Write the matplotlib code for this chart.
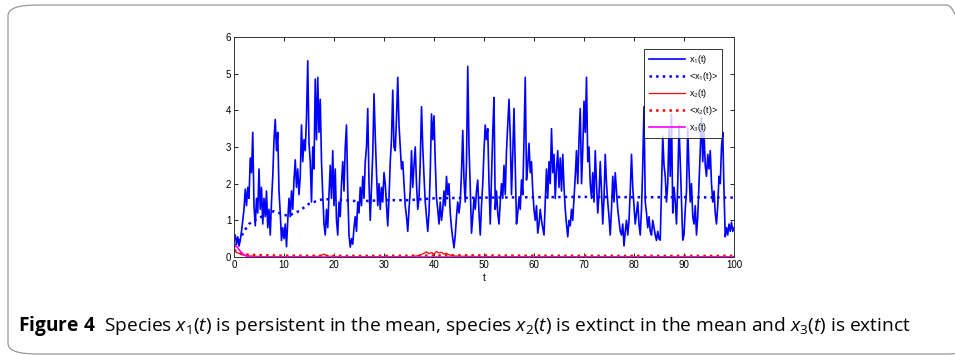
"""Species trajectories x1, x2, x3 with time averages (Figure 4)."""

import matplotlib.pyplot as plt
import numpy as np
from matplotlib.patches import FancyBboxPatch

CAP_FONT = "Open Sans"

plt.rcParams["font.family"] = ["Liberation Sans", "DejaVu Sans"]
plt.rcParams["mathtext.fontset"] = "custom"
plt.rcParams["mathtext.rm"] = CAP_FONT
plt.rcParams["mathtext.it"] = CAP_FONT + ":italic"
plt.rcParams["mathtext.bf"] = CAP_FONT + ":bold"

# x1(t) sampled every 0.25 time units, t = 0 ... 100
T_STEP = 0.25
X1 = [
    0.45, 0.6, 0.35, 0.55, 0.3, 0.45, 0.7, 1.0, 1.3, 1.85, 1.4, 1.9, 1.6, 2.7, 2.3, 3.4, 1.4, 0.85, 1.6, 1.2,
    2.4, 1.3, 1.9, 0.9, 1.6, 1.1, 1.8, 0.8, 1.3, 0.6, 1.5, 2.2, 3.2, 3.75, 2.9, 3.4, 1.8, 1.2, 0.45, 0.8,
    0.5, 0.9, 0.28, 1.0, 1.6, 1.1, 1.8, 1.3, 2.1, 2.65, 1.9, 2.4, 1.7, 2.2, 3.6, 2.6, 3.2, 2.9, 3.8, 5.35,
    3.1, 2.6, 1.5, 3.0, 2.4, 4.85, 3.2, 4.9, 3.4, 4.3, 2.6, 1.7, 0.9, 0.6, 1.3, 0.8, 1.7, 2.5, 1.6, 2.9,
    1.4, 2.4, 1.0, 0.6, 1.5, 1.1, 2.0, 2.6, 1.8, 3.0, 3.6, 1.8, 0.6, 0.27, 0.5, 0.35, 0.8, 1.1, 0.7, 1.5,
    1.2, 1.9, 1.4, 2.2, 1.6, 2.6, 3.0, 4.05, 2.0, 1.0, 1.9, 2.8, 4.45, 3.3, 2.3, 1.4, 2.0, 1.3, 1.9, 1.5,
    2.3, 2.0, 1.4, 0.85, 1.6, 2.6, 3.2, 4.55, 3.0, 2.9, 3.8, 4.9, 3.6, 3.0, 2.4, 2.6, 2.0, 1.4, 1.1, 0.7,
    1.3, 1.8, 2.9, 1.9, 2.5, 3.0, 2.0, 1.3, 1.6, 2.6, 4.1, 3.0, 2.2, 1.5, 1.1, 0.7, 1.2, 2.3, 3.9, 3.2,
    3.85, 2.6, 1.6, 1.3, 0.9, 1.5, 1.0, 1.3, 1.8, 1.4, 2.2, 1.7, 2.0, 1.2, 0.8, 0.5, 0.25, 0.6, 1.1, 1.5,
    1.2, 1.5, 2.3, 3.45, 2.1, 1.5, 2.6, 5.2, 3.0, 1.9, 0.65, 1.1, 1.6, 1.3, 1.8, 2.1, 1.2, 0.6, 1.4, 2.0,
    2.9, 3.6, 3.2, 3.5, 2.0, 0.9, 2.2, 3.4, 4.35, 1.3, 1.8, 1.2, 0.9, 1.5, 2.0, 1.6, 2.5, 1.7, 2.9, 3.6,
    4.3, 3.3, 1.7, 2.8, 4.05, 2.5, 0.9, 1.2, 1.6, 1.3, 2.1, 1.7, 3.2, 4.9, 2.1, 2.5, 3.1, 2.3, 2.6, 1.8,
    1.3, 1.0, 1.4, 0.65, 0.9, 1.3, 1.0, 0.8, 0.6, 1.5, 2.4, 1.6, 2.6, 2.0, 3.5, 2.3, 2.8, 1.6, 2.4, 2.9,
    1.9, 2.7, 1.8, 2.8, 1.9, 1.3, 0.9, 0.55, 1.0, 0.85, 1.3, 1.0, 1.6, 2.2, 2.9, 2.0, 3.2, 4.05, 2.0, 2.9,
    4.25, 3.4, 4.9, 2.6, 3.0, 2.0, 1.6, 2.3, 1.5, 2.9, 2.0, 1.2, 1.7, 2.6, 1.8, 0.9, 1.6, 2.8, 2.0, 1.5,
    1.1, 0.6, 1.3, 2.2, 1.5, 2.3, 1.8, 1.3, 1.0, 0.7, 0.6, 0.9, 0.3, 0.7, 1.0, 0.6, 1.0, 1.8, 2.8, 1.9,
    1.4, 0.9, 1.2, 1.5, 0.9, 0.6, 1.3, 2.5, 4.1, 1.5, 1.2, 0.8, 1.1, 0.7, 0.6, 1.0, 0.8, 0.6, 0.45, 0.7,
    0.5, 0.46, 1.9, 3.3, 2.5, 2.2, 1.5, 2.0, 3.5, 2.2, 3.9, 1.2, 1.9, 1.5, 0.9, 2.0, 3.6, 2.6, 1.5, 0.46,
    0.6, 1.3, 1.8, 3.5, 2.4, 1.5, 2.0, 1.1, 0.9, 1.4, 0.6, 1.1, 2.0, 2.9, 3.8, 2.6, 3.4, 2.5, 2.2, 2.8,
    2.4, 2.9, 2.0, 1.5, 1.8, 1.2, 0.9, 1.4, 2.2, 2.0, 3.0, 3.4, 1.8, 0.55, 0.8, 0.6, 0.9, 0.7, 0.95, 0.7,
    0.8,
]

# time average <x1(t)>
T_MEAN1 = [0, 1, 2, 3, 4, 5, 6, 7, 8, 9, 10, 11, 12, 13, 14, 15, 16, 17, 18, 20, 25, 30, 35, 40, 50, 60, 70, 80, 90, 100]
MEAN1 = [0.3, 0.45, 0.7, 0.9, 1.0, 1.05, 1.15, 1.2, 1.25, 1.2, 1.15, 1.12, 1.2, 1.25, 1.35, 1.45, 1.5, 1.55, 1.58,
         1.57, 1.52, 1.55, 1.55, 1.6, 1.62, 1.63, 1.64, 1.63, 1.63, 1.62]

# x2(t)
T_X2 = [0, 0.5, 1, 1.5, 2, 3, 4, 6, 10, 15, 17, 17.5, 18, 18.5, 19, 22, 30, 35, 36, 37, 37.5, 38, 38.5, 39, 39.5,
        40, 40.5, 41, 41.5, 42, 42.5, 43, 44, 45, 50, 60, 70, 80, 90, 100]
X2 = [0.2, 0.12, 0.1, 0.06, 0.05, 0.03, 0.02, 0.01, 0.01, 0.01, 0.02, 0.05, 0.08, 0.04, 0.02, 0.01, 0.01, 0.01, 0.02,
      0.04, 0.07, 0.1, 0.14, 0.09, 0.12, 0.08, 0.15, 0.11, 0.13, 0.08, 0.1, 0.06, 0.03, 0.02, 0.01, 0.01, 0.01, 0.01,
      0.01, 0.01]

# time average <x2(t)>
T_MEAN2 = [0, 1, 2, 3, 5, 8, 10, 20, 30, 40, 45, 50, 60, 80, 100]
MEAN2 = [0.2, 0.12, 0.08, 0.06, 0.05, 0.04, 0.035, 0.03, 0.03, 0.04, 0.045, 0.04, 0.035, 0.03, 0.03]

# x3(t)
T_X3 = [0, 0.3, 0.6, 1, 1.5, 2, 2.5, 3, 4, 100]
X3 = [0.25, 0.3, 0.28, 0.2, 0.12, 0.06, 0.02, 0.01, 0.0, 0.0]

W, H = 955, 355
fig = plt.figure(figsize=(W / 100, H / 100), dpi=100)

# rounded frame around the figure panel
frame = FancyBboxPatch((8 / W, 1 - 354 / H), (975 - 8) / W, (354 - 5) / H,
                       boxstyle="round,pad=0,rounding_size=0.03", transform=fig.transFigure,
                       facecolor="none", edgecolor="#8c8c8c", linewidth=0.8, clip_on=False)
fig.patches.append(frame)

ax = fig.add_axes([234 / W, 1 - 257 / H, 500 / W, 220 / H])

t1 = np.arange(len(X1)) * T_STEP
ax.plot(t1, X1, color="#0000ff", linewidth=1.2, label="x$_1$(t)")
ax.plot(T_MEAN1, MEAN1, color="#0000ff", linestyle=":", linewidth=1.8, label="<x$_1$(t)>")
ax.plot(T_X2, X2, color="#ff0000", linewidth=0.9, label="x$_2$(t)")
ax.plot(T_MEAN2, MEAN2, color="#ff0000", linestyle=":", linewidth=1.8, label="<x$_2$(t)>")
ax.plot(T_X3, X3, color="#ff00ff", linewidth=1.2, label="x$_3$(t)")

ax.set_xlim(0, 100)
ax.set_ylim(0, 6)
ax.set_xticks(np.arange(0, 101, 10))
ax.set_yticks(np.arange(0, 7, 1))
ax.tick_params(direction="in", top=True, right=True, length=3, width=0.6, labelsize=7, pad=2)
for sp in ax.spines.values():
    sp.set_linewidth(0.7)
    sp.set_color("#333333")
ax.set_xlabel("t", fontsize=7, labelpad=2)

leg = ax.legend(loc="upper right", fontsize=6.5, frameon=True, fancybox=False, edgecolor="black",
                handlelength=4.0, labelspacing=0.45, borderaxespad=1.3, borderpad=0.45, handletextpad=0.5)
leg.get_frame().set_linewidth(0.7)

fig.text(18 / W, 1 - 326 / H,
         r"$\mathbf{Figure\ 4}$" + "  Species $x_1(t)$ is persistent in the mean, species $x_2(t)$ is extinct "
         "in the mean and $x_3(t)$ is extinct",
         fontsize=13.8, family=CAP_FONT, va="center", ha="left")

fig.savefig("out.png", dpi=100)
